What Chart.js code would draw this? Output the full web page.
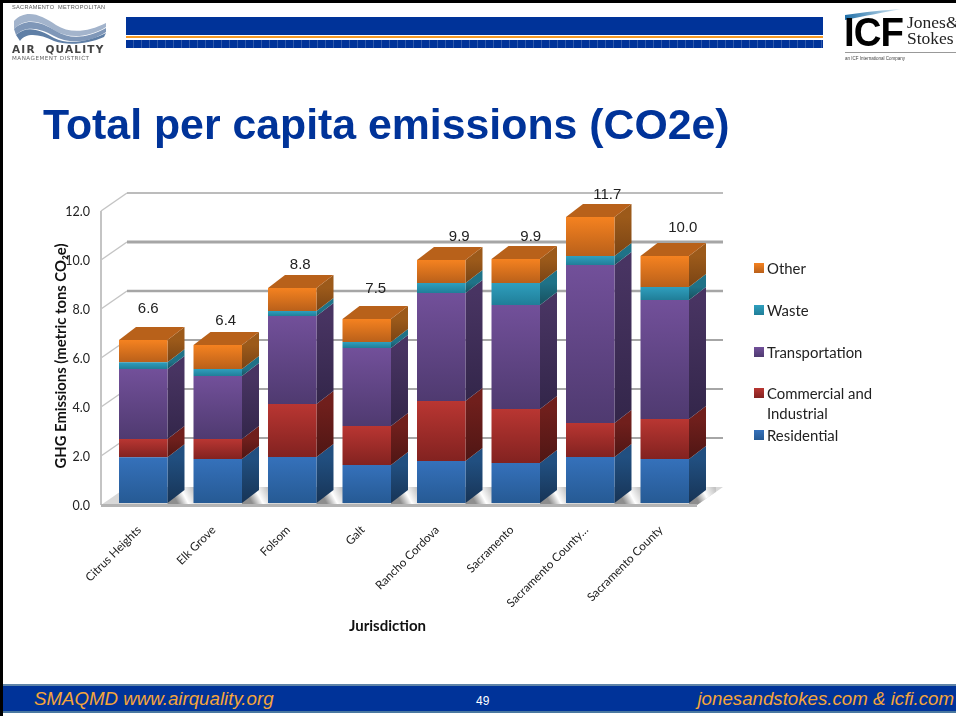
<!DOCTYPE html>
<html>
<head>
<meta charset="utf-8">
<title>Total per capita emissions</title>
<script src="https://cdn.jsdelivr.net/npm/chart.js@4/dist/chart.umd.min.js"></script>
<style>
  html, body { margin: 0; padding: 0; background: #fff; }
  #page { position: relative; width: 956px; height: 719px; overflow: hidden; background: #fff; }
  #page div, #page span, #page svg { position: absolute; }
  canvas { position: absolute; left: 0; top: 0; }
  .edgeTop { left: 0; top: 0; width: 956px; height: 3px; background: #000; }
  .edgeLeft { left: 0; top: 0; width: 3px; height: 716px; background: #000; }
  .band { left: 126px; width: 697px; }
  #title { left: 43px; top: 100px; font: bold 42.8px "Liberation Sans", Arial, sans-serif; color: #003399; white-space: nowrap; }
  #xTitle { left: 349px; top: 616px; font: bold 15px Lato, sans-serif; color: #111; white-space: nowrap; }
  #footer { left: 3px; top: 684px; width: 953px; height: 29px; background: #003399; border-top: 2px solid #5f84a8; box-sizing: border-box; border-bottom: 2px solid #4a78a0; }
  .foot { font: italic 18.7px "Liberation Sans", Arial, sans-serif; color: #f5a53a; top: 688px; white-space: nowrap; }
  #pageNo { left: 476px; top: 694px; font: 12px "Liberation Sans", Arial, sans-serif; color: #fff; }
  .legendRow { left: 754px; font: 14.9px/20px Lato, sans-serif; color: #222; }
  .legendRow i { position: absolute; left: 0; top: 5px; width: 10px; height: 10px; }
  .legendRow b { position: absolute; left: 13px; top: 0; font-weight: normal; white-space: nowrap; }
</style>
</head>
<body>
<div id="page">
  <canvas id="chart" width="956" height="719"></canvas>

  <div class="edgeTop"></div>
  <div class="edgeLeft"></div>

  <!-- air quality logo -->
  <span style="left:12px;top:4px;font:5.6px 'Liberation Sans';color:#555;white-space:nowrap;letter-spacing:.3px">SACRAMENTO&nbsp;&nbsp;METROPOLITAN</span>
  <svg style="left:12px;top:11px" width="96" height="33" viewBox="0 0 96 33">
    <path d="M2 10 C14 -3 30 4 44 14 C58 23 76 21 94 12 L94 16 C76 27 56 28 42 19 C28 10 14 6 2 18 Z" fill="#a3b4cc"/>
    <path d="M2 18 C14 6 30 11 44 20 C58 29 76 27 94 17 L94 21 C78 32 56 33 42 25 C28 17 14 14 4 24 Z" fill="#7f97b8"/>
    <path d="M4 24 C14 14 28 18 42 27 C56 34 76 31 94 22 L92 26 C76 33 56 35 42 30 C28 23 14 21 8 30 Z" fill="#5f7fa6"/>
  </svg>
  <span style="left:12px;top:43px;font:bold 10.5px 'DejaVu Sans';color:#444;white-space:nowrap;letter-spacing:1.2px">AIR&nbsp;&nbsp;QUALITY</span>
  <span style="left:12px;top:55px;font:5.6px 'DejaVu Sans';color:#666;white-space:nowrap;letter-spacing:.5px">MANAGEMENT DISTRICT</span>

  <!-- header band -->
  <div class="band" style="top:17px;height:18px;background:#003399"></div>
  <div class="band" style="top:36px;height:2px;background:#f59a23"></div>
  <div class="band" style="top:40px;height:8px;background:repeating-linear-gradient(90deg,#003399 0,#003399 7px,#3059aa 7px,#3059aa 8px)"></div>

  <!-- ICF logo -->
  <svg style="left:845px;top:8px" width="60" height="12" viewBox="0 0 60 12">
    <defs><linearGradient id="sw" x1="0" x2="1"><stop offset="0" stop-color="#1f6fa8"/><stop offset="1" stop-color="#dcecf5"/></linearGradient></defs>
    <path d="M0 7 C20 4 40 2 56 1 C40 4 20 8 0 12 Z" fill="url(#sw)"/>
  </svg>
  <span style="left:844px;top:10px;font:bold 40px 'Liberation Sans';color:#000;letter-spacing:-1px;white-space:nowrap;transform:scaleX(.96);transform-origin:left top">ICF</span>
  <span style="left:907px;top:14px;font:17.5px/16px 'Liberation Serif';color:#222;white-space:nowrap">Jones&amp;<br>Stokes</span>
  <div style="left:845px;top:52px;width:111px;height:1px;background:#999"></div>
  <span style="left:845px;top:56px;font:4.5px 'Liberation Sans';color:#444;white-space:nowrap">an ICF International Company</span>

  <div id="title">Total per capita emissions (CO2e)</div>
  <span id="xTitle">Jurisdiction</span>

  <div id="footer"></div>
  <span class="foot" style="left:34px">SMAQMD www.airquality.org</span>
  <span id="pageNo">49</span>
  <span class="foot" style="right:2px">jonesandstokes.com &amp; icfi.com</span>

  <div id="legend"></div>
</div>

<script>
var categories = ['Citrus Heights', 'Elk Grove', 'Folsom', 'Galt', 'Rancho Cordova', 'Sacramento', 'Sacramento County…', 'Sacramento County'];
var residential = [1.87, 1.80, 1.88, 1.55, 1.71, 1.63, 1.88, 1.80];
var commercial = [0.74, 0.81, 2.16, 1.59, 2.45, 2.21, 1.39, 1.63];
var transportation = [2.86, 2.57, 3.59, 3.19, 4.41, 4.24, 6.44, 4.86];
var waste = [0.28, 0.29, 0.21, 0.24, 0.41, 0.90, 0.37, 0.53];
var other = [0.90, 0.98, 0.94, 0.94, 0.94, 0.98, 1.59, 1.26];
var totals = ['6.6', '6.4', '8.8', '7.5', '9.9', '9.9', '11.7', '10.0'];

var seriesNames = ['Residential', 'Commercial and Industrial', 'Transportation', 'Waste', 'Other'];
var seriesValues = [residential, commercial, transportation, waste, other];

// front face gradient, side face gradient
var faceTop = ['#3571bb', '#b93632', '#72509a', '#2f9fbe', '#f58220'];
var faceBottom = ['#265a94', '#822220', '#4f3a70', '#207e98', '#b9601a'];
var sideTop = ['#214f80', '#701f1c', '#483462', '#1f7287', '#9c5a1a'];
var sideBottom = ['#173456', '#4f1614', '#33264a', '#17505f', '#7a4414'];
var capColor = '#b8611a';

var depthX = 17, depthY = 13;      // bar depth
var wallX = 26, wallY = 16;        // back wall offset from the bars' plane
var axisX = 101;
var wallRight = 723;
var floorRight = 697;
var gridWidths = { 12: 1.5, 10: 3, 8: 2.5, 6: 2, 4: 2, 2: 2, 0: 0 };
var labelShift = [[5, -31], [8, -24], [8, -23], [9, -30], [18, -23], [15, -22], [17, -22], [18, -28]];

function faceFill(context) {
    var chart = context.chart, y = chart.scales.y;
    var ds = context.datasetIndex;
    if (context.type !== 'data' || !y) return faceTop[ds];
    var sum = 0;
    for (var s = 0; s < ds; s++) sum += seriesValues[s][context.dataIndex];
    var y0 = y.getPixelForValue(sum + seriesValues[ds][context.dataIndex]);
    var y1 = y.getPixelForValue(sum);
    if (!isFinite(y0) || !isFinite(y1)) return faceTop[ds];   // scale not laid out yet
    var g = chart.ctx.createLinearGradient(0, y0, 0, y1);
    g.addColorStop(0, faceTop[ds]);
    g.addColorStop(1, faceBottom[ds]);
    return g;
}

var datasets = [];
for (var i = 0; i < seriesNames.length; i++) {
    datasets.push({
        label: seriesNames[i],
        data: seriesValues[i],
        backgroundColor: faceFill,
        borderWidth: 0,
        categoryPercentage: 1,
        barPercentage: 0.651
    });
}

// wall, floor and the sides of the bars, all taken from the chart's scales
var scenePlugin = {
    id: 'scene',
    beforeDatasetsDraw: function (chart) {
        var ctx = chart.ctx, yScale = chart.scales.y;
        var base = yScale.getPixelForValue(0);
        ctx.save();

        // left axis line
        ctx.strokeStyle = '#b0b0b0';
        ctx.lineWidth = 1.5;
        ctx.beginPath();
        ctx.moveTo(axisX, yScale.getPixelForValue(12) + 2);
        ctx.lineTo(axisX, base + 2);
        ctx.stroke();

        // gridlines on the back wall
        yScale.ticks.forEach(function (t) {
            var y = yScale.getPixelForValue(t.value);
            if (t.value === 0) return;
            ctx.strokeStyle = '#c4c4c4';
            ctx.lineWidth = 1.5;
            ctx.beginPath();
            ctx.moveTo(axisX, y + 2);
            ctx.lineTo(axisX + wallX, y - wallY);
            ctx.stroke();
            ctx.strokeStyle = '#a6a6a6';
            ctx.lineWidth = gridWidths[t.value];
            ctx.beginPath();
            ctx.moveTo(axisX + wallX, y - wallY);
            ctx.lineTo(wallRight, y - wallY);
            ctx.stroke();
        });

        // floor
        var bars = chart.getDatasetMeta(0).data;
        ctx.save();
        ctx.beginPath();
        ctx.moveTo(axisX, base + 2);
        ctx.lineTo(floorRight, base + 2);
        ctx.lineTo(wallRight, base - wallY);
        ctx.lineTo(axisX + wallX, base - wallY);
        ctx.closePath();
        ctx.fillStyle = '#d8d8d8';
        ctx.fill();
        ctx.clip();
        bars.forEach(function (b) {
            var r = b.x + b.width / 2;
            var g = ctx.createLinearGradient(r, base, r + 26, base - 14);
            g.addColorStop(0.3, '#8e8e8e');
            g.addColorStop(0.62, '#ffffff');
            g.addColorStop(1, '#c4c4c4');
            ctx.fillStyle = g;
            ctx.fillRect(r, base - wallY, 27, wallY + 2);
        });
        ctx.restore();
        ctx.fillStyle = '#b4b4b4';
        ctx.fillRect(axisX, base + 1, floorRight - axisX, 3);

        // sides of each stacked segment
        for (var ds = 0; ds < chart.data.datasets.length; ds++) {
            chart.getDatasetMeta(ds).data.forEach(function (el) {
                var right = el.x + el.width / 2;
                var g = ctx.createLinearGradient(0, el.y, 0, el.base);
                g.addColorStop(0, sideTop[ds]);
                g.addColorStop(1, sideBottom[ds]);
                ctx.fillStyle = g;
                ctx.beginPath();
                ctx.moveTo(right, el.y);
                ctx.lineTo(right + depthX, el.y - depthY);
                ctx.lineTo(right + depthX, el.base - depthY);
                ctx.lineTo(right, el.base);
                ctx.closePath();
                ctx.fill();
            });
        }

        // caps
        var last = chart.getDatasetMeta(chart.data.datasets.length - 1).data;
        ctx.fillStyle = capColor;
        last.forEach(function (el) {
            var left = el.x - el.width / 2, right = el.x + el.width / 2;
            ctx.beginPath();
            ctx.moveTo(left, el.y);
            ctx.lineTo(left + depthX, el.y - depthY);
            ctx.lineTo(right + depthX, el.y - depthY);
            ctx.lineTo(right, el.y);
            ctx.closePath();
            ctx.fill();
        });
        ctx.restore();
    },
    afterDatasetsDraw: function (chart) {
        var ctx = chart.ctx;
        var last = chart.getDatasetMeta(chart.data.datasets.length - 1).data;
        ctx.save();
        ctx.fillStyle = '#222';
        ctx.font = '15px "Liberation Sans", Arial, sans-serif';
        ctx.textAlign = 'center';
        ctx.textBaseline = 'middle';
        last.forEach(function (el, i) {
            ctx.fillText(totals[i], el.x + labelShift[i][0], el.y + labelShift[i][1]);
        });
        ctx.restore();
    }
};

new Chart(document.getElementById('chart').getContext('2d'), {
    type: 'bar',
    data: { labels: categories, datasets: datasets },
    plugins: [scenePlugin],
    options: {
        responsive: false,
        animation: false,
        layout: { padding: { left: 52, top: 209, right: 254, bottom: 86 } },
        plugins: { legend: { display: false }, tooltip: { enabled: false } },
        scales: {
            x: {
                stacked: true,
                grid: { display: false },
                border: { display: false },
                ticks: {
                    minRotation: 45, maxRotation: 45, autoSkip: false, padding: 12, labelOffset: -4,
                    color: '#222', font: { family: 'Lato', size: 11.7 }
                },
                afterFit: function (scale) { scale.height = 130; }
            },
            y: {
                stacked: true,
                min: 0,
                max: 12,
                grid: { display: false, drawTicks: false },
                border: { display: false },
                ticks: {
                    stepSize: 2, padding: 16, labelOffset: 3, color: '#222',
                    font: { family: 'Lato', size: 12.5 },
                    callback: function (v) { return v.toFixed(1); }
                },
                title: {
                    display: true, text: 'GHG Emissions (metric tons CO₂e)', color: '#111', padding: 0,
                    font: { family: 'Lato', size: 14.8, weight: 'bold' }
                },
                afterFit: function (scale) { scale.width = 54; }
            }
        }
    }
});

// legend, top to bottom is the reverse of the stack
var legendTop = { 'Other': 258, 'Waste': 300, 'Transportation': 342, 'Commercial and Industrial': 383, 'Residential': 425 };
var legendBox = document.getElementById('legend');
for (var n = seriesNames.length - 1; n >= 0; n--) {
    var row = document.createElement('div');
    row.className = 'legendRow';
    row.style.top = legendTop[seriesNames[n]] + 'px';
    var swatch = document.createElement('i');
    swatch.style.background = 'linear-gradient(' + faceTop[n] + ',' + faceBottom[n] + ')';
    var text = document.createElement('b');
    text.innerHTML = seriesNames[n].replace(' and ', ' and<br>');
    row.appendChild(swatch);
    row.appendChild(text);
    legendBox.appendChild(row);
}
</script>
</body>
</html>
